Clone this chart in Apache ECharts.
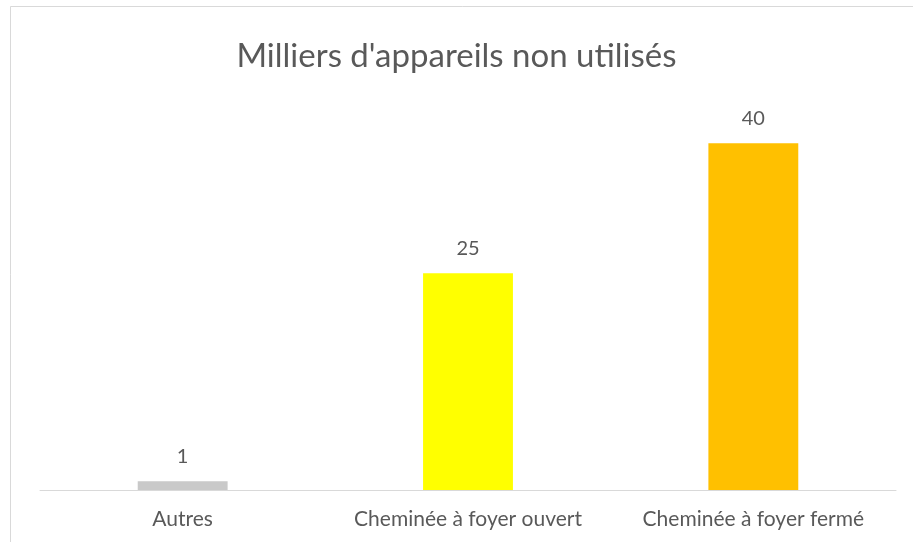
<!DOCTYPE html>
<html>
<head>
<meta charset="utf-8">
<script src="https://cdn.jsdelivr.net/npm/echarts@6/dist/echarts.min.js"></script>
<style>
  html, body { margin: 0; padding: 0; background: #fff; }
  #chart { width: 913px; height: 542px; }
</style>
</head>
<body>
<div id="chart"></div>
<script>
// Appareils de chauffage non utilisés, en milliers
const categories = ['Autres', 'Cheminée à foyer ouvert', 'Cheminée à foyer fermé'];
const values = [1, 25, 40];
const barColors = ['#C9C9C9', '#FFFF00', '#FFC000'];

const chart = echarts.init(document.getElementById('chart'));
const FONT = 'Lato';
const TEXT = '#595959';

chart.setOption({
  animation: false,
  backgroundColor: '#ffffff',
  title: {
    text: "Milliers d'appareils non utilisés",
    left: 'center',
    top: 35,
    textStyle: { fontFamily: FONT, fontSize: 33, fontWeight: 'normal', color: TEXT }
  },
  graphic: [{
    type: 'rect',
    shape: { x: 10.5, y: 6.5, width: 920, height: 560 },
    style: { fill: 'none', stroke: '#D9D9D9', lineWidth: 1 },
    silent: true
  }],
  grid: { left: 40, right: 17, top: 100, bottom: 52, containLabel: false },
  xAxis: {
    type: 'category',
    data: categories,
    axisLine: { lineStyle: { color: '#D9D9D9', width: 1 } },
    axisTick: { show: false },
    axisLabel: {
      interval: 0,
      hideOverlap: false,
      fontFamily: FONT,
      fontSize: 21,
      color: TEXT,
      margin: 19
    }
  },
  yAxis: {
    type: 'value',
    min: 0,
    max: 45,
    show: false,
    splitLine: { show: false }
  },
  series: [{
    type: 'bar',
    data: values.map((v, i) => ({ value: v, itemStyle: { color: barColors[i] } })),
    barWidth: '31.5%',
    label: {
      show: true,
      position: 'top',
      distance: 15,
      fontFamily: FONT,
      fontSize: 20,
      color: TEXT
    }
  }]
});
</script>
</body>
</html>
